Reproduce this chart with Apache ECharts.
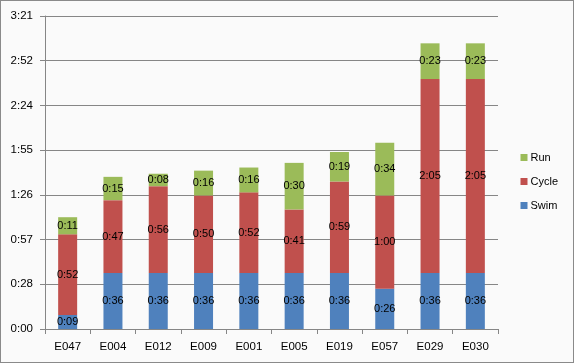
<!DOCTYPE html>
<html><head><meta charset="utf-8">
<script src="https://cdn.jsdelivr.net/npm/echarts@6/dist/echarts.min.js"></script>
<style>html,body{margin:0;padding:0;background:#fff}#c{position:absolute;left:0;top:0;width:572px;height:361px;border:1px solid #8a8a8a;background:#fafafa}</style>
</head><body><div id="c"></div>
<script>
const categories = ['E047','E004','E012','E009','E001','E005','E019','E057','E029','E030'];
const swim  = [9, 36, 36, 36, 36, 36, 36, 26, 36, 36];
const cycle = [52, 47, 56, 50, 52, 41, 59, 60, 125, 125];
const run   = [11, 15, 8, 16, 16, 30, 19, 34, 23, 23];
const yMin = 0, yMax = 201.6, yInterval = 28.8;

function fmt(m){ m = Math.floor(m + 1e-6); const h = Math.floor(m/60), mm = m%60; return h + ':' + (mm<10?'0':'') + mm; }
const chart = echarts.init(document.getElementById('c'), null, {renderer:'canvas'});
const font = 'Liberation Sans, Arial, sans-serif';
const lbl = {show:true, position:'inside', color:'#000', fontSize:11, fontFamily:font, formatter:p=>fmt(p.value)};
function s(name, data, color){ return {name, type:'bar', stack:'t', data, barWidth:19, itemStyle:{color}, label:lbl}; }
chart.setOption({
  animation:false,
  grid:{left:44, right:75, top:15, bottom:33, containLabel:false},
  legend:{orient:'vertical', right:10, top:146, itemWidth:7, itemHeight:7, itemGap:13, icon:'rect',
    data:['Run','Cycle','Swim'], textStyle:{fontSize:11, fontFamily:font, color:'#000', padding:[0,0,0,-2]}},
  xAxis:{type:'category', data:categories, axisLine:{lineStyle:{color:'#868686'}},
    axisTick:{show:true, length:5, alignWithLabel:false, lineStyle:{color:'#868686'}},
    axisLabel:{color:'#000', fontSize:11.5, fontFamily:font, margin:12}},
  yAxis:{type:'value', min:yMin, max:yMax, interval:yInterval,
    axisLine:{show:true, lineStyle:{color:'#868686'}}, axisTick:{show:true, length:5, lineStyle:{color:'#868686'}},
    splitLine:{lineStyle:{color:'#868686'}},
    axisLabel:{color:'#000', fontSize:11.5, fontFamily:font, margin:12, formatter:v=>fmt(v)}},
  series:[s('Swim', swim, '#4f81bd'), s('Cycle', cycle, '#c0504d'), s('Run', run, '#9bbb59')]
});
</script></body></html>
